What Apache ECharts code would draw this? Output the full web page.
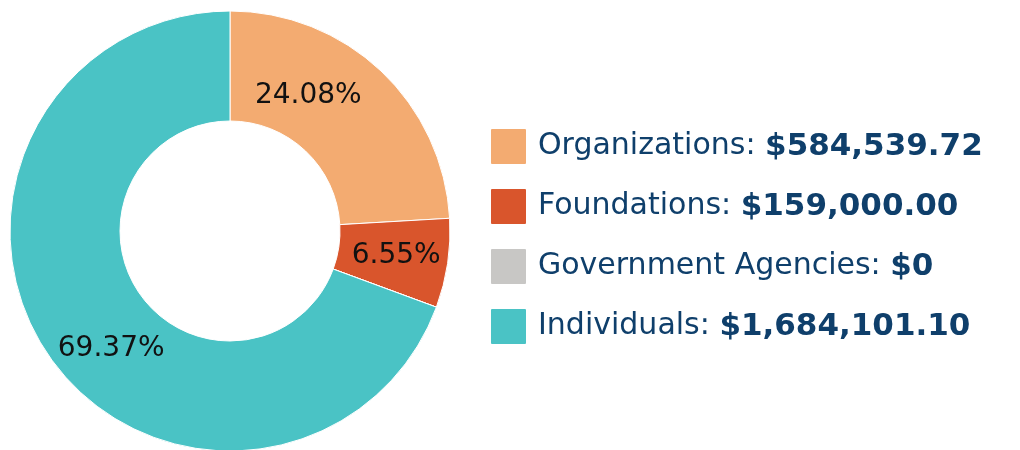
<!DOCTYPE html>
<html>
<head>
<meta charset="utf-8">
<script src="https://cdn.jsdelivr.net/npm/echarts@6/dist/echarts.min.js"></script>
<style>
  html, body { margin: 0; padding: 0; background: #fff; }
  #chart { width: 1020px; height: 450px; }
</style>
</head>
<body>
<div id="chart"></div>
<script>
const categories = ['Organizations', 'Foundations', 'Government Agencies', 'Individuals']
const amounts = [584539.72, 159000.00, 0, 1684101.10]
const colors = ['#F3AB71', '#D9552C', '#C8C7C5', '#4AC3C5']

const fmtMoney = v => v === 0 ? '$0' : '$' + v.toLocaleString('en-US', {minimumFractionDigits: 2, maximumFractionDigits: 2})

const chart = echarts.init(document.getElementById('chart'))
const option = {
  color: colors,
  animation: false,
  legend: {
    orient: 'vertical',
    left: 489,
    top: 127,
    padding: 0,
    itemWidth: 37,
    itemHeight: 37,
    itemGap: 21,
    // square with barely rounded corners
    icon: 'path://M2,0H35Q37,0 37,2V35Q37,37 35,37H2Q0,37 0,35V2Q0,0 2,0Z',
    selectedMode: false,
    data: categories,
    formatter: name => {
      const i = categories.indexOf(name)
      return '{n|' + name + ': }{v|' + fmtMoney(amounts[i]) + '}'
    },
    textStyle: {
      padding: [0, 0, 0, 6],
      rich: {
        n: { fontFamily: 'DejaVu Sans', fontSize: 30, color: '#0F3F6B', lineHeight: 37 },
        v: { fontFamily: 'DejaVu Sans', fontSize: 31, fontWeight: 'bold', color: '#0F3F6B', lineHeight: 37 }
      }
    }
  },
  series: [
    {
      type: 'pie',
      center: [230, 231],
      radius: [110, 220],
      startAngle: 90,
      clockwise: true,
      percentPrecision: 2,
      silent: true,
      itemStyle: { borderColor: '#fff', borderWidth: 1 },
      label: {
        show: true,
        position: 'inside',
        fontFamily: 'DejaVu Sans',
        fontSize: 28,
        color: '#111',
        formatter: p => p.value === 0 ? '' : p.percent.toFixed(2) + '%'
      },
      labelLine: { show: false },
      // nudge labels to where the original chart put them
      labelLayout: p => p.dataIndex === 0 ? { dx: -37, dy: -13 } : p.dataIndex === 3 ? { dx: 19, dy: 22 } : {},
      data: categories.map((c, i) => ({ name: c, value: amounts[i] }))
    }
  ]
}
chart.setOption(option)
</script>
</body>
</html>
